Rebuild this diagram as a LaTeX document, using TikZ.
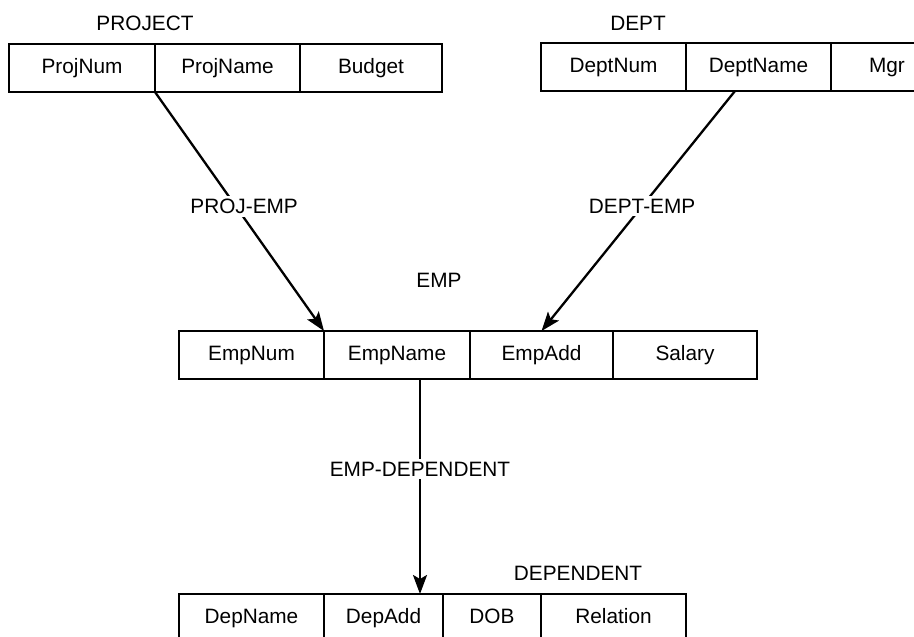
\documentclass[tikz,border=0pt]{standalone}
\usepackage{fontspec}
\setmainfont{Liberation Sans}
\usetikzlibrary{positioning, arrows.meta}
\newcommand{\tfont}{\fontsize{20.8}{24}\selectfont}

\begin{document}
\begin{tikzpicture}[
    x=1pt, y=-1pt,
    >={Stealth[length=19pt, width=14pt, inset=4pt]},
    cell/.style={
        draw=black,
        line width=1.3pt,
        minimum width=#1,
        minimum height=48pt,
        inner sep=0pt,
        outer sep=0pt,
        text height=15pt,
        text depth=5pt,
        font=\tfont,
    },
    cell/.default=145pt,
    tname/.style={font=\tfont, inner sep=0pt},
    link/.style={->, line width=2.3pt},
    linklabel/.style={font=\tfont, fill=white, inner sep=3pt},
]

% -- Picture frame
\clip (0,0) rectangle (914,637);

% -- PROJECT table
\node[tname] (projecttitle) at (145,23) {PROJECT};
\node[cell=146pt] (projnum) at (82,68) {ProjNum};
\node[cell=145pt, right=0pt of projnum] (projname) {ProjName};
\node[cell=142pt, right=0pt of projname] (budget) {Budget};

% -- DEPT table (runs off the right edge)
\node[tname] (depttitle) at (638,23) {DEPT};
\node[cell] (deptnum) at (613.5,67) {DeptNum};
\node[cell, right=0pt of deptnum] (deptname) {DeptName};
\node[cell=112pt, right=0pt of deptname] (mgr) {Mgr};

% -- EMP table
\node[tname] (emptitle) at (439,280) {EMP};
\node[cell=145pt] (empnum) at (251.5,355) {EmpNum};
\node[cell=146pt, right=0pt of empnum] (empname) {EmpName};
\node[cell=143pt, right=0pt of empname] (empadd) {EmpAdd};
\node[cell=144pt, right=0pt of empadd] (salary) {Salary};

% -- DEPENDENT table (runs off the bottom edge)
\node[tname] (deptitle) at (578,573) {DEPENDENT};
\node[cell=145pt] (depname) at (251.5,618) {DepName};
\node[cell=119pt, right=0pt of depname] (depadd) {DepAdd};
\node[cell=98pt, right=0pt of depadd] (dob) {DOB};
\node[cell=145pt, right=0pt of dob] (relation) {Relation};

% ===== Links =====

% project -> emp
\draw[link] (projnum.south east) -- node[linklabel, pos=0.48, xshift=8pt] {PROJ-EMP} (empnum.north east);

% dept -> emp
\draw[link] ([xshift=-23.5pt]deptname.south) -- node[linklabel, pos=0.48] {DEPT-EMP} (empadd.north);

% emp -> dependent
\coordinate (depline) at ([xshift=23pt]empname.south);
\draw[link] (depline) -- node[linklabel, pos=0.42] {EMP-DEPENDENT} (depline |- depadd.north);

\end{tikzpicture}
\end{document}
